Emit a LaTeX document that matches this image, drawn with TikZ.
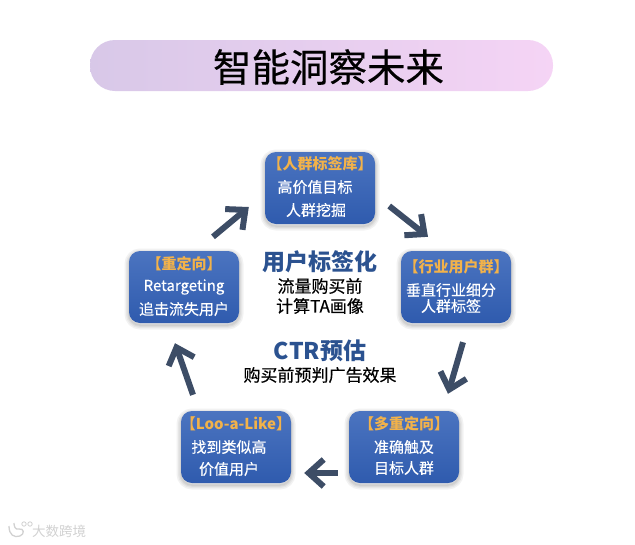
\documentclass[tikz,border=0pt]{standalone}
\usepackage{fontspec}
\setmainfont{Noto Sans CJK SC}
\newfontfamily\heavyfam[FakeBold=0.35]{Noto Sans CJK SC}
\usetikzlibrary{arrows.meta}
\definecolor{boxtop}{HTML}{4B74C0}
\definecolor{boxbot}{HTML}{2F5BAE}
\definecolor{headgold}{HTML}{F2B24A}
\definecolor{midblue}{HTML}{2B5290}
\definecolor{arrowslate}{HTML}{3D4D66}
\definecolor{barleft}{HTML}{D8C8E8}
\definecolor{barright}{HTML}{F5D4F5}
\tikzset{
    softedge/.style={preaction={draw=black, line width=#1, opacity=0.05, transform canvas={yshift=-2pt}}},
    bannerbar/.style={rounded corners=25pt, minimum width=463pt, minimum height=51pt, inner sep=0pt,
        left color=barleft, right color=barright},
    audbox/.style={rounded corners=11pt, minimum width=110pt, minimum height=72pt, inner sep=0pt,
        top color=boxtop, bottom color=boxbot, softedge=9pt, softedge=6pt, softedge=3.5pt, softedge=1.5pt},
    boxhead/.style={text=headgold, font=\fontsize{15}{15}\selectfont\bfseries, inner sep=0pt},
    boxbody/.style={text=white, font=\fontsize{15}{15}\selectfont\heavyfam, inner sep=0pt},
    midhead/.style={text=midblue, font=\fontsize{23}{23}\selectfont\bfseries, inner sep=0pt},
    midbody/.style={text=black, font=\fontsize{17}{17}\selectfont\heavyfam, inner sep=0pt},
    flowarrow/.style={-{Straight Barb[length=15pt, width=27pt, line width=6pt]}, line width=6pt, color=arrowslate}
}
\begin{document}
\begin{tikzpicture}[x=1pt, y=-1pt]
    \useasboundingbox (0,0) rectangle (635,544);

    % Title
    \node[bannerbar] (banner) at (321.5,65.5) {};
    \node[inner sep=0pt, font=\fontsize{38.5}{38.5}\selectfont\heavyfam] (title) at (328.5,67) {智能洞察未来};

    % Boxes
    \node[audbox] (boxTop) at (320,188) {};
    \node[audbox] (boxRight) at (456,287) {};
    \node[audbox] (boxLowR) at (404,447) {};
    \node[audbox] (boxLowL) at (236,447) {};
    \node[audbox] (boxLeft) at (184,287) {};

    % Top box text
    \node[boxhead] (headTop) at (320,164) {【人群标签库】};
    \node[boxbody] (topA) at (315,187) {高价值目标};
    \node[boxbody] (topB) at (316,210) {人群挖掘};

    % Right box text
    \node[boxhead] (headRight) at (456,267) {【行业用户群】};
    \node[boxbody] (rightA) at (451,290) {垂直行业细分};
    \node[boxbody] (rightB) at (451,306) {人群标签};

    % Lower right box text
    \node[boxhead] (headLowR) at (404,424) {【多重定向】};
    \node[boxbody] (lowRA) at (404,447) {准确触及};
    \node[boxbody] (lowRB) at (404,468) {目标人群};

    % Lower left box text
    \node[boxhead] (headLowL) at (236,424) {【Loo-a-Like】};
    \node[boxbody] (lowLA) at (229,447) {找到类似高};
    \node[boxbody] (lowLB) at (229,469) {价值用户};

    % Left box text
    \node[boxhead] (headLeft) at (184,264) {【重定向】};
    \node[boxbody] (leftA) at (184,287) {Retargeting};
    \node[boxbody] (leftB) at (184,309) {追击流失用户};

    % Middle text
    \node[midhead] (midA) at (320,262) {用户标签化};
    \node[midbody] (midB) at (320,286) {流量购买前};
    \node[midbody] (midC) at (320,306) {计算TA画像};
    \node[midhead] (midD) at (320,351) {CTR预估};
    \node[midbody] (midE) at (320,375) {购买前预判广告效果};

    % Arrows round the ring
    \draw[flowarrow] ([xshift=29pt,yshift=14pt]boxLeft.north) -- ([xshift=-16pt,yshift=-19pt]boxTop.west);
    \draw[flowarrow] ([xshift=14pt,yshift=-18pt]boxTop.east) -- ([xshift=-28pt,yshift=14pt]boxRight.north);
    \draw[flowarrow] ([xshift=7pt,yshift=-19pt]boxRight.south) -- ([xshift=44pt,yshift=17pt]boxLowR.north);
    \draw[flowarrow] ([xshift=-11pt,yshift=-26pt]boxLowR.west) -- ([xshift=13pt,yshift=-26pt]boxLowL.east);
    \draw[flowarrow] ([xshift=-43pt,yshift=16pt]boxLowL.north) -- ([xshift=-9pt,yshift=-20pt]boxLeft.south);

    % Watermark
    \draw[black!18, line width=1.3pt] (9,526) .. controls (9,535) and (14,538) .. (20,536) .. controls (25,534) and (24,528) .. (19,529) .. controls (15,530) and (14,526) .. (14,523);
    \draw[black!18, line width=0.8pt] (24,524) circle (2.2pt) (30,524) circle (2.2pt);
    \node[inner sep=0pt, text=black!18, font=\fontsize{13.5}{13.5}\selectfont] (mark) at (59,531) {大数跨境};
\end{tikzpicture}
\end{document}
